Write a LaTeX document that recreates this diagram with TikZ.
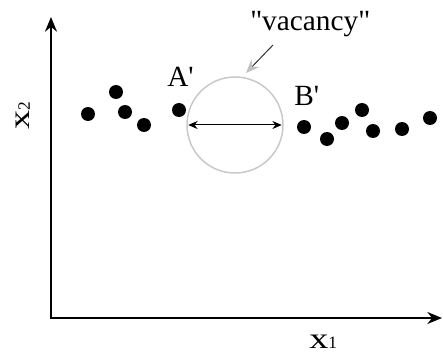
\documentclass[tikz,border=0pt]{standalone}
\usepackage{fontspec}
\setmainfont{Liberation Serif}
\usetikzlibrary{arrows.meta,positioning}
\definecolor{vacgray}{RGB}{200,200,200}
\definecolor{tipgray}{RGB}{192,192,192}
\newcommand\axsub[1]{{\fontsize{13}{13}\selectfont #1}}
\newcommand\axvar{\scalebox{1.3}[1]{x}}

\begin{document}
\begin{tikzpicture}[
  x=0.75pt,y=-0.75pt,
  font=\fontsize{22}{25}\selectfont,
  pt/.style={circle,fill=black,inner sep=0pt,minimum size=10.5pt},
  axis/.style={{Stealth[length=11pt,width=9pt]}-{Stealth[length=11pt,width=9pt]},line width=1.5pt},
  dbl/.style={{Stealth[length=7pt,width=6pt]}-{Stealth[length=7pt,width=6pt]},line width=0.75pt,
              shorten <=1.5pt,shorten >=1.5pt},
  hint/.style={-{Stealth[length=10pt,width=8pt,color=tipgray]},line width=0.75pt,black!80},
  lbl/.style={anchor=base west,inner sep=0pt}
]
\useasboundingbox (0,0) rectangle (443,353);
% axes
\coordinate (ytop) at (51,17);
\coordinate (O) at (51,318);
\coordinate (xend) at (442,318);
\draw[axis] (ytop) -- (O) -- (xend);
\node[lbl] (x1) at (309,348) {\axvar\axsub{1}};
\node[lbl,rotate=90] (x2) at (30,130) {\axvar\axsub{2}};
% samples
\foreach \px/\py [count=\i] in {88/114,116/92,125/112,144/125,179/110,
    304/127,327/139,342/123,362/110,373/131,402/129,430/118}
  \node[pt] (p\i) at (\px,\py) {};
% gap between A' and B'
\node[circle,draw=vacgray,line width=1.1pt,minimum size=72pt,inner sep=0pt] (vac) at (235,125) {};
\draw[dbl] (vac.west) -- (vac.east);
\node[lbl] (A) at (167,87) {A\textquotesingle};
\node[lbl] (B) at (294,106) {B\textquotesingle};
\node[lbl] (vlab) at (250,31) {\textquotedbl vacancy\textquotedbl};
\coordinate (vtail) at (273,45);
\coordinate (vtip) at (246,73);
\draw[hint] (vtail) -- (vtip);
\end{tikzpicture}
\end{document}
